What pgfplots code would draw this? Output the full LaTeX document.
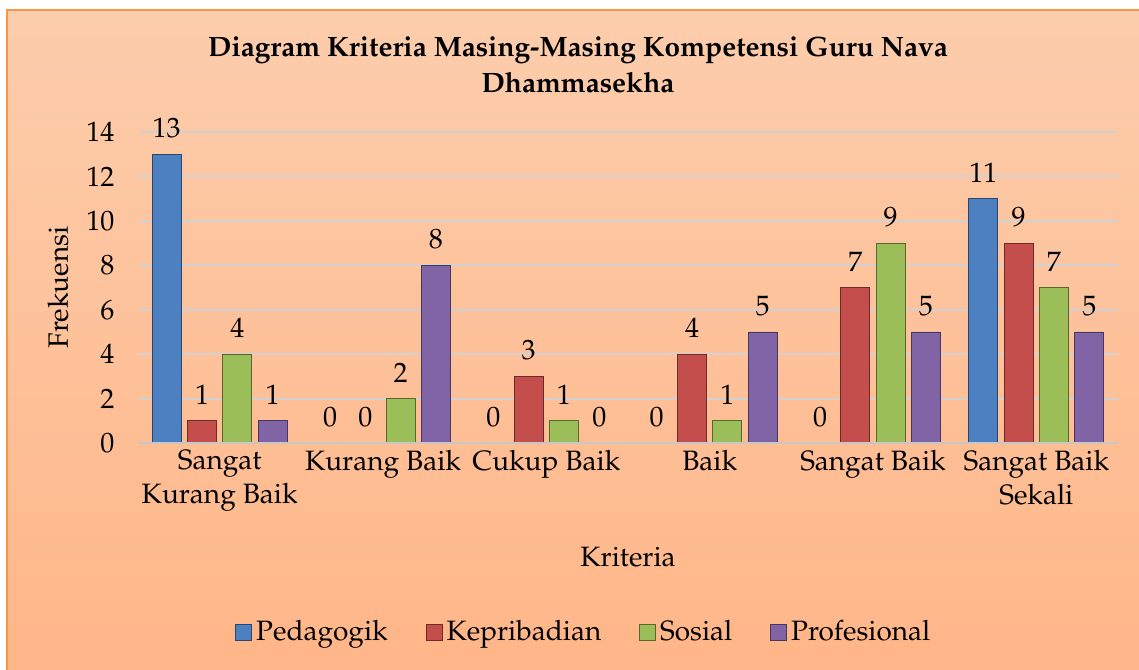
\documentclass[border=0pt]{standalone}
\usepackage[T1]{fontenc}
\usepackage{mathpazo}
\usepackage{pgfplots}
\pgfplotsset{compat=1.18}
\definecolor{bgtop}{RGB}{252,205,172}
\definecolor{bgbot}{RGB}{255,182,136}
\definecolor{frameor}{RGB}{247,150,70}
\definecolor{cblue}{RGB}{76,128,192}
\definecolor{cred}{RGB}{196,78,75}
\definecolor{cgreen}{RGB}{156,190,88}
\definecolor{cpurple}{RGB}{128,100,166}
\newcommand{\fs}{\fontsize{14}{17}\selectfont}
\begin{document}
\begin{tikzpicture}
\useasboundingbox (0,0) rectangle (569.5pt,334.5pt);
\fill[white] (0,0) rectangle (569.5pt,334.5pt);
\shade[top color=bgtop, bottom color=bgbot] (3.5pt,0) rectangle (569.5pt,329.5pt);
\draw[frameor, line width=1pt] (3.5pt,-2pt) -- (3.5pt,329.5pt) -- (572pt,329.5pt);
\node[font=\bfseries\fontsize{14}{18}\selectfont, align=center] at (289pt,302pt) {Diagram Kriteria Masing-Masing Kompetensi Guru Nava\\Dhammasekha};
\begin{axis}[
  at={(69pt,113pt)}, anchor=south west,
  scale only axis, width=490pt, height=155.5pt,
  ymin=0, ymax=14, xmin=-0.5, xmax=5.5,
  ybar=3.15pt, bar width=14.5pt,
  xtick={0,1,2,3,4,5},
  xticklabels={{Sangat\\Kurang Baik},{Kurang Baik},{Cukup Baik},{Baik},{Sangat Baik},{Sangat Baik\\Sekali}},
  xticklabel style={align=center, font=\fs, text depth=0pt},
  ytick={0,2,...,14},
  yticklabel style={font=\fs, xshift=-8.3pt},
  ymajorgrids, grid style={color=black!18, line width=1pt},
  axis line style={draw=none},
  major tick length=0pt,
  tick style={draw=none},
  xlabel={Kriteria}, ylabel={Frekuensi},
  xlabel style={font=\fs, at={(axis description cs:0.5,-0.3666)}, anchor=center},
  ylabel style={font=\fs, at={(axis description cs:-0.0816,0.5)}, anchor=center, rotate=0},
  nodes near coords,
  every node near coord/.append style={font=\fs, yshift=4.5pt, black},
  legend columns=4,
  legend style={draw=none, fill=none, font=\fs, at={(axis description cs:0.456,-0.6077)}, anchor=center,
    /tikz/every even column/.append style={column sep=17pt}},
  legend image code/.code={\path[#1] (0pt,-4pt) rectangle (8pt,4pt);},
]
\addplot[draw=cblue!55!black, fill=cblue] coordinates {(0,13) (1,0) (2,0) (3,0) (4,0) (5,11)};
\addplot[draw=cred!55!black, fill=cred] coordinates {(0,1) (1,0) (2,3) (3,4) (4,7) (5,9)};
\addplot[draw=cgreen!55!black, fill=cgreen] coordinates {(0,4) (1,2) (2,1) (3,1) (4,9) (5,7)};
\addplot[draw=cpurple!55!black, fill=cpurple] coordinates {(0,1) (1,8) (2,0) (3,5) (4,5) (5,5)};
\legend{Pedagogik,Kepribadian,Sosial,Profesional}
\draw[black!22, line width=1.5pt] (axis cs:-0.5,0) -- (axis cs:5.5,0);
\end{axis}
\end{tikzpicture}
\end{document}
